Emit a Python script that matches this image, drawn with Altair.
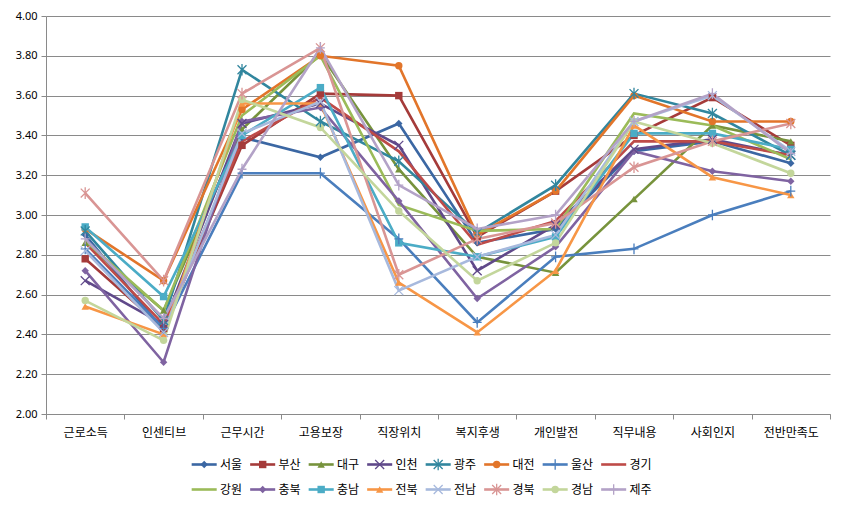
import altair as alt
import pandas as pd

categories = ["근로소득", "인센티브", "근무시간", "고용보장", "직장위치",
              "복지후생", "개인발전", "직무내용", "사회인지", "전반만족도"]
series = ["서울", "부산", "대구", "인천", "광주", "대전", "울산", "경기",
          "강원", "충북", "충남", "전북", "전남", "경북", "경남", "제주"]

seoul   = [2.90, 2.42, 3.39, 3.29, 3.46, 2.86, 2.93, 3.32, 3.37, 3.26]
busan   = [2.78, 2.43, 3.35, 3.61, 3.60, 2.89, 3.12, 3.40, 3.59, 3.35]
daegu   = [2.86, 2.52, 3.43, 3.81, 3.23, 2.79, 2.71, 3.08, 3.45, 3.37]
incheon = [2.67, 2.45, 3.46, 3.56, 3.35, 2.72, 2.95, 3.33, 3.38, 3.30]
gwangju = [2.92, 2.47, 3.73, 3.47, 3.27, 2.91, 3.15, 3.61, 3.51, 3.30]
daejeon = [2.93, 2.67, 3.53, 3.80, 3.75, 2.90, 3.12, 3.60, 3.47, 3.47]
ulsan   = [2.83, 2.43, 3.21, 3.21, 2.88, 2.46, 2.79, 2.83, 3.00, 3.12]
gyeonggi = [2.86, 2.45, 3.37, 3.59, 3.32, 2.85, 2.97, 3.37, 3.37, 3.30]
gangwon = [2.87, 2.52, 3.50, 3.80, 3.05, 2.92, 2.93, 3.51, 3.45, 3.28]
chungbuk = [2.72, 2.26, 3.47, 3.54, 3.07, 2.58, 2.84, 3.32, 3.22, 3.17]
chungnam = [2.94, 2.59, 3.40, 3.64, 2.86, 2.79, 2.89, 3.41, 3.41, 3.33]
jeonbuk = [2.54, 2.40, 3.56, 3.56, 2.66, 2.41, 2.72, 3.45, 3.19, 3.10]
jeonnam = [2.82, 2.41, 3.41, 3.57, 2.62, 2.79, 2.90, 3.47, 3.60, 3.32]
gyeongbuk = [3.11, 2.67, 3.61, 3.84, 2.70, 2.88, 2.96, 3.24, 3.37, 3.46]
gyeongnam = [2.57, 2.37, 3.58, 3.44, 3.02, 2.67, 2.86, 3.47, 3.36, 3.21]
jeju    = [2.88, 2.48, 3.23, 3.84, 3.15, 2.93, 3.00, 3.47, 3.61, 3.31]

values = [seoul, busan, daegu, incheon, gwangju, daejeon, ulsan, gyeonggi,
          gangwon, chungbuk, chungnam, jeonbuk, jeonnam, gyeongbuk, gyeongnam, jeju]

colors = ["#3B67A3", "#A53B3A", "#77933C", "#60498A", "#31869E", "#E2752A",
          "#4A7EBD", "#BE4B48", "#9BBB59", "#7F63A1", "#4BACC6", "#F79646",
          "#A7B9DD", "#D99594", "#C3D69B", "#B3A2C7"]

X_PATH = "M-1,-1L1,1M-1,1L1,-1"
STAR_PATH = "M-1,-1L1,1M-1,1L1,-1M0,-1.3L0,1.3"
PLUS_PATH = "M-1,0L1,0M0,-1.2L0,1.2"
shapes = ["diamond", "square", "triangle-up", X_PATH, STAR_PATH, "circle",
          PLUS_PATH, "circle", "circle", "diamond", "square", "triangle-up",
          X_PATH, STAR_PATH, "circle", PLUS_PATH]
filled_series = ["서울", "부산", "대구", "대전", "충북", "충남", "전북", "경남"]
stroked_series = ["인천", "광주", "울산", "전남", "경북", "제주"]

rows = []
for s, vals in zip(series, values):
    for i, (c, v) in enumerate(zip(categories, vals)):
        rows.append({"series": s, "category": c, "value": v, "category_idx": i})
df = pd.DataFrame(rows)

FONT = "Noto Sans CJK KR"
NUMFONT = "Noto Sans"
GRID = "#8A8A8A"

color_scale = alt.Scale(domain=series, range=colors)
shape_scale = alt.Scale(domain=series, range=shapes)

x_enc = alt.X("category:N", sort=categories,
              scale=alt.Scale(type="band", paddingInner=0, paddingOuter=0),
              bandPosition=0.5,
              axis=alt.Axis(title=None, labelAngle=0, tickBand="extent", tickSize=5,
                            grid=False, labelPadding=8, labelFontSize=12,
                            labelFont=FONT, labelColor="#000000",
                            domainColor=GRID, tickColor=GRID))
y_enc = alt.Y("value:Q",
              scale=alt.Scale(domain=[2, 4], nice=False, zero=False),
              axis=alt.Axis(title=None, values=[2.0 + 0.2 * i for i in range(11)],
                            format=".2f", tickSize=5, labelPadding=4,
                            labelFontSize=11, labelFont=NUMFONT, labelColor="#000000",
                            domainColor=GRID, tickColor=GRID, gridColor=GRID,
                            grid=True))
color_enc = alt.Color("series:N", scale=color_scale, legend=None)
shape_enc = alt.Shape("series:N", scale=shape_scale, legend=None)

base = alt.Chart(df)
lines = base.mark_line(strokeWidth=2.6).encode(
    x=x_enc, y=y_enc, color=color_enc, order="category_idx:Q")

pts_filled = base.transform_filter(
    alt.FieldOneOfPredicate(field="series", oneOf=filled_series)
).mark_point(filled=True, size=55, opacity=1).encode(
    x=x_enc, y=y_enc, color=color_enc, shape=shape_enc)
pts_stroked = base.transform_filter(
    alt.FieldOneOfPredicate(field="series", oneOf=stroked_series)
).mark_point(filled=False, size=80, strokeWidth=1.3, opacity=1).encode(
    x=x_enc, y=y_enc, color=color_enc, shape=shape_enc)

main = alt.layer(lines, pts_filled, pts_stroked).properties(width=784, height=398)

# legend panel built from the series list
leg_rows = []
for i, s in enumerate(series):
    col = i % 8
    row = i // 8
    leg_rows.append({"series": s, "col": col, "row": row,
                     "x1": col - 0.214, "x2": col + 0.214, "tx": col + 0.27})
ldf = pd.DataFrame(leg_rows)

lx = alt.Scale(domain=[-2.704, 10.698], nice=False, zero=False)
ly = alt.Scale(domain=[-0.5, 1.5], reverse=True, nice=False, zero=False)
lbase = alt.Chart(ldf)
l_rule = lbase.mark_rule(strokeWidth=2.6).encode(
    x=alt.X("x1:Q", scale=lx, axis=None), x2="x2:Q",
    y=alt.Y("row:Q", scale=ly, axis=None), color=color_enc)
l_pf = lbase.transform_filter(
    alt.FieldOneOfPredicate(field="series", oneOf=filled_series)
).mark_point(filled=True, size=55, opacity=1).encode(
    x=alt.X("col:Q", scale=lx, axis=None), y=alt.Y("row:Q", scale=ly, axis=None),
    color=color_enc, shape=shape_enc)
l_ps = lbase.transform_filter(
    alt.FieldOneOfPredicate(field="series", oneOf=stroked_series)
).mark_point(filled=False, size=80, strokeWidth=1.3, opacity=1).encode(
    x=alt.X("col:Q", scale=lx, axis=None), y=alt.Y("row:Q", scale=ly, axis=None),
    color=color_enc, shape=shape_enc)
l_text = lbase.mark_text(align="left", baseline="middle", fontSize=12,
                         font=FONT, color="#000000").encode(
    x=alt.X("tx:Q", scale=lx, axis=None), y=alt.Y("row:Q", scale=ly, axis=None),
    text="series:N")
legend = alt.layer(l_rule, l_pf, l_ps, l_text).properties(width=784, height=50)

chart = alt.vconcat(main, legend, spacing=14).resolve_scale(
    x="independent", y="independent"
).properties(
    padding={"left": 7, "top": 2, "right": 5, "bottom": 0},
    background="white"
).configure_view(stroke=None)

chart.save("out.html", embed_options={"renderer": "svg", "actions": False})
